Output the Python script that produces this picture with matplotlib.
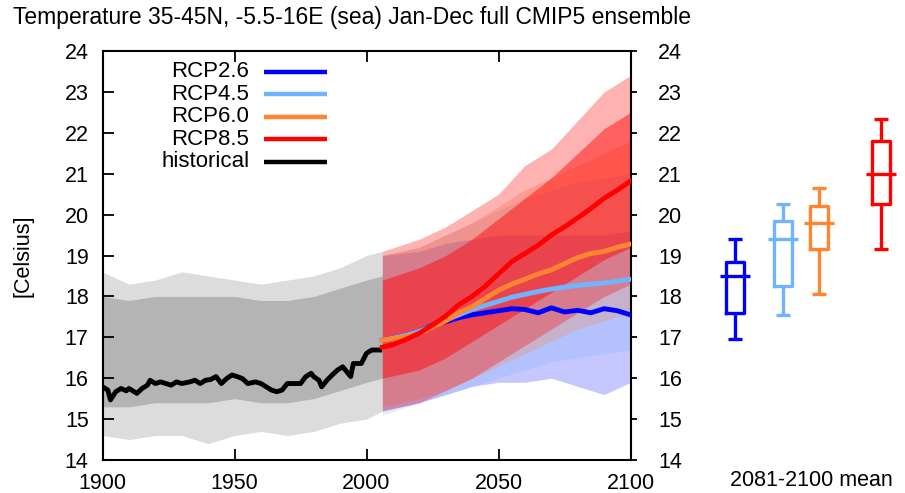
import matplotlib
matplotlib.use("Agg")
import matplotlib.pyplot as plt
import numpy as np

plt.rcParams['font.family'] = ['Liberation Sans', 'DejaVu Sans']

TITLE = "Temperature 35-45N, -5.5-16E (sea) Jan-Dec full CMIP5 ensemble"
YLABEL = "[Celsius]"
BOX_LABEL = "2081-2100 mean"
xticks = [1900, 1950, 2000, 2050, 2100]
yticks = list(range(14, 25))

# ---- historical ensemble mean ----
hist_years = [1900, 1902, 1903, 1905, 1907, 1909, 1910, 1913, 1915, 1917, 1918, 1920,
              1922, 1924, 1926, 1928, 1930, 1933, 1935, 1937, 1939, 1941, 1943, 1945,
              1947, 1949, 1951, 1953, 1955, 1958, 1960, 1962, 1964, 1966, 1968, 1970,
              1972, 1975, 1977, 1979, 1980, 1982, 1983, 1985, 1987, 1989, 1991, 1993,
              1994, 1995, 1998, 2000, 2002, 2005]
hist_mean = [15.79, 15.71, 15.47, 15.67, 15.75, 15.69, 15.75, 15.63, 15.75, 15.83, 15.95, 15.87,
             15.91, 15.87, 15.83, 15.91, 15.87, 15.91, 15.95, 15.87, 15.95, 15.97, 16.04, 15.87,
             15.99, 16.08, 16.04, 15.99, 15.87, 15.91, 15.87, 15.79, 15.71, 15.67, 15.71, 15.87,
             15.87, 15.87, 16.04, 16.12, 16.04, 15.95, 15.79, 15.95, 16.08, 16.20, 16.28, 16.12,
             16.04, 16.36, 16.36, 16.61, 16.69, 16.69]

# historical ensemble spread (envelope and dense core)
hist_env_years = [1900, 1910, 1920, 1930, 1940, 1950, 1960, 1970, 1980, 1990, 2000, 2006]
hist_max = [18.6, 18.3, 18.4, 18.6, 18.5, 18.4, 18.3, 18.4, 18.5, 18.7, 19.0, 19.1]
hist_hi  = [18.0, 17.9, 18.0, 18.0, 18.0, 18.0, 17.9, 17.9, 18.0, 18.2, 18.4, 18.5]
hist_lo  = [15.3, 15.3, 15.4, 15.4, 15.4, 15.5, 15.4, 15.4, 15.5, 15.7, 15.9, 16.0]
hist_min = [14.6, 14.5, 14.6, 14.6, 14.4, 14.6, 14.7, 14.6, 14.7, 14.9, 15.0, 15.2]

# ---- scenario ensemble means ----
fut_years = [2006, 2010, 2015, 2020, 2025, 2030, 2035, 2040, 2045, 2050,
             2055, 2060, 2065, 2070, 2075, 2080, 2085, 2090, 2095, 2100]
rcp26_mean = [16.93, 16.98, 17.05, 17.15, 17.30, 17.38, 17.48, 17.55, 17.60, 17.65,
              17.70, 17.68, 17.60, 17.72, 17.62, 17.66, 17.60, 17.70, 17.65, 17.55]
rcp45_mean = [16.93, 16.98, 17.05, 17.15, 17.28, 17.42, 17.55, 17.68, 17.78, 17.88,
              17.98, 18.05, 18.12, 18.18, 18.23, 18.27, 18.30, 18.33, 18.37, 18.42]
rcp60_mean = [16.93, 16.97, 17.02, 17.10, 17.25, 17.40, 17.60, 17.75, 17.95, 18.15,
              18.30, 18.42, 18.55, 18.65, 18.80, 18.95, 19.05, 19.10, 19.20, 19.28]
rcp85_mean = [16.76, 16.82, 16.95, 17.10, 17.30, 17.52, 17.80, 18.00, 18.25, 18.55,
              18.85, 19.05, 19.25, 19.50, 19.70, 19.92, 20.15, 20.40, 20.60, 20.82]

# scenario ensemble spread (decadal envelope)
env_years = [2006, 2020, 2030, 2040, 2050, 2060, 2070, 2080, 2090, 2100]
rcp26_max = [19.0, 19.1, 19.3, 19.4, 19.5, 19.5, 19.5, 19.5, 19.5, 19.6]
rcp26_min = [15.2, 15.4, 15.6, 15.8, 15.9, 15.9, 16.0, 15.8, 15.6, 15.9]
rcp45_max = [19.0, 19.2, 19.5, 19.8, 20.1, 20.4, 20.6, 20.8, 20.9, 21.0]
rcp45_min = [15.1, 15.4, 15.6, 15.8, 16.0, 16.2, 16.4, 16.5, 16.6, 16.7]
rcp60_max = [19.0, 19.2, 19.5, 19.8, 20.2, 20.6, 20.9, 21.2, 21.5, 21.8]
rcp60_min = [15.3, 15.5, 15.7, 16.0, 16.3, 16.6, 16.9, 17.2, 17.4, 17.6]
rcp85_max = [19.1, 19.4, 19.7, 20.1, 20.5, 21.2, 21.6, 22.3, 23.0, 23.4]
rcp85_hi  = [18.4, 18.7, 19.0, 19.4, 19.9, 20.4, 20.9, 21.5, 22.1, 22.5]
rcp85_lo  = [16.0, 16.2, 16.5, 16.9, 17.3, 17.7, 18.1, 18.5, 18.9, 19.2]
rcp85_min = [15.2, 15.4, 15.7, 16.0, 16.4, 16.8, 17.2, 17.6, 18.0, 18.3]

# ---- 2081-2100 mean box plots ----
scenarios = ["RCP2.6", "RCP4.5", "RCP6.0", "RCP8.5"]
box_wlo = [16.95, 17.55, 18.05, 19.15]
box_q1  = [17.60, 18.25, 19.15, 20.25]
box_med = [18.50, 19.40, 19.80, 21.00]
box_q3  = [18.85, 19.85, 20.20, 21.80]
box_whi = [19.40, 20.25, 20.65, 22.35]

colors = {"RCP2.6": "#0000ff", "RCP4.5": "#70b4ff", "RCP6.0": "#ff8530",
          "RCP8.5": "#ff0000", "historical": "#000000"}

FS = 15.5

fig = plt.figure(figsize=(9.05, 4.93), dpi=100)
ax = fig.add_axes([0.1133, 0.0669, 0.5834, 0.8296])

# spreads
ax.fill_between(hist_env_years, hist_min, hist_max, color="#dcdcdc", lw=0, zorder=1)
ax.fill_between(hist_env_years, hist_lo, hist_hi, color="#b4b4b4", lw=0, zorder=1.1)

ax.fill_between(env_years, rcp26_min, rcp26_max, color=colors["RCP2.6"], alpha=0.22, lw=0, zorder=1.2)
ax.fill_between(env_years, rcp45_min, rcp45_max, color=colors["RCP4.5"], alpha=0.22, lw=0, zorder=1.3)
ax.fill_between(env_years, rcp60_min, rcp60_max, color=colors["RCP6.0"], alpha=0.25, lw=0, zorder=1.4)
ax.fill_between(env_years, rcp85_min, rcp85_max, color=colors["RCP8.5"], alpha=0.30, lw=0, zorder=1.5)
ax.fill_between(env_years, rcp85_lo, rcp85_hi, color=colors["RCP8.5"], alpha=0.45, lw=0, zorder=1.6)

# means
lw_mean = 3.5
ax.plot(hist_years, hist_mean, color=colors["historical"], lw=lw_mean, zorder=5)
ax.plot(fut_years, rcp26_mean, color=colors["RCP2.6"], lw=lw_mean, zorder=5)
ax.plot(fut_years, rcp45_mean, color=colors["RCP4.5"], lw=lw_mean, zorder=5.1)
ax.plot(fut_years, rcp60_mean, color=colors["RCP6.0"], lw=lw_mean, zorder=5.2)
ax.plot(fut_years, rcp85_mean, color=colors["RCP8.5"], lw=lw_mean, zorder=5.3)

ax.set_xlim(1900, 2100)
ax.set_ylim(14, 24)
ax.set_xticks(xticks)
ax.set_yticks(yticks)
ax.tick_params(axis="both", direction="in", labelsize=FS, width=1.3, length=8)
ax.tick_params(axis="x", top=True, pad=9)
ax.tick_params(axis="y", pad=10)
for s in ax.spines.values():
    s.set_linewidth(1.5)
ax.set_ylabel(YLABEL, fontsize=FS, labelpad=22)

# right axis ticks
axr = ax.twinx()
axr.set_ylim(14, 24)
axr.set_yticks(yticks)
axr.tick_params(axis="y", direction="out", length=4, width=1.3, labelsize=FS, pad=16)
for s in axr.spines.values():
    s.set_visible(False)

# legend (gnuplot style: right-aligned text, sample to the right)
legend_items = ["RCP2.6", "RCP4.5", "RCP6.0", "RCP8.5", "historical"]
for i, name in enumerate(legend_items):
    yy = 0.949 - i * 0.0548
    ax.text(0.278, yy, name, transform=ax.transAxes, ha="right", va="center", fontsize=16, zorder=10)
    ax.plot([0.305, 0.426], [yy, yy], transform=ax.transAxes, color=colors[name], lw=3.2,
            solid_capstyle="butt", zorder=10)

fig.text(0.389, 0.9635, TITLE, ha="center", va="center", fontsize=16.5)

# box plot panel
ax2 = fig.add_axes([690 / 905, 0.0669, 215 / 905, 0.8296])
ax2.set_xlim(0, 215)
ax2.set_ylim(14, 24)
ax2.axis("off")
box_pos = [45, 93, 129, 191]
box_hw, med_hw, cap_hw = 9, 15, 7
for i, name in enumerate(scenarios):
    c = colors[name]
    x = box_pos[i]
    kw = dict(color=c, lw=2.4, solid_capstyle="butt")
    ax2.plot([x, x], [box_wlo[i], box_q1[i]], **kw)
    ax2.plot([x, x], [box_q3[i], box_whi[i]], **kw)
    ax2.plot([x - cap_hw, x + cap_hw], [box_wlo[i], box_wlo[i]], **kw)
    ax2.plot([x - cap_hw, x + cap_hw], [box_whi[i], box_whi[i]], **kw)
    ax2.plot([x - box_hw, x + box_hw, x + box_hw, x - box_hw, x - box_hw],
             [box_q1[i], box_q1[i], box_q3[i], box_q3[i], box_q1[i]], color=c, lw=2.4)
    ax2.plot([x - med_hw, x + med_hw], [box_med[i], box_med[i]], **kw)
fig.text(893 / 905, 1 - 480 / 493, BOX_LABEL, ha="right", va="center", fontsize=FS)

fig.savefig("out.png", dpi=100)
